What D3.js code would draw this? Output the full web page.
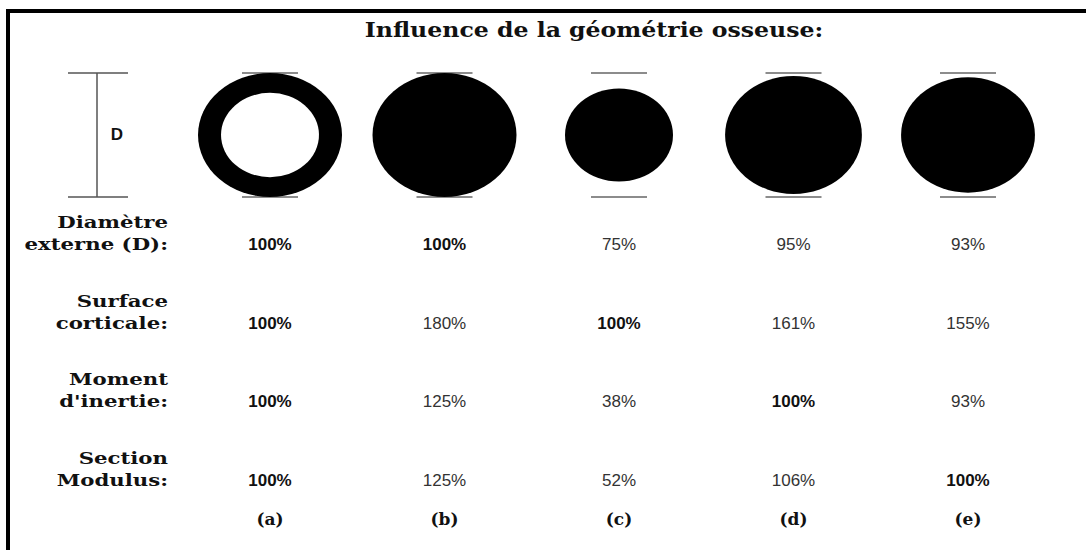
<!DOCTYPE html>
<html lang="fr">
<head>
<meta charset="utf-8">
<title>Influence de la géométrie osseuse</title>
<script src="https://d3js.org/d3.v7.min.js"></script>
<style>
  body { margin: 0; background: #fff; }
  .lbl { font-family: "DejaVu Serif", serif; font-weight: bold; fill: #111; }
  .val { font-family: "Liberation Sans", Arial, sans-serif; font-size: 17px; fill: #333; }
  .val.b { font-weight: bold; fill: #111; }
</style>
</head>
<body>
<div id="chart"></div>
<script>
// data
var shapes = ["(a)", "(b)", "(c)", "(d)", "(e)"]
var diametre = [100, 100, 75, 95, 93]
var surface = [100, 180, 100, 161, 155]
var inertie = [100, 125, 38, 100, 93]
var modulus = [100, 125, 52, 106, 100]
var innerDiam = [68, 0, 0, 0, 0]   // hollow part of (a), % of D
var rowLabels = [["Diamètre", "externe (D):"], ["Surface", "corticale:"],
                 ["Moment", "d'inertie:"], ["Section", "Modulus:"]]
var rows = [diametre, surface, inertie, modulus]
var title = "Influence de la géométrie osseuse:"

var w = 1086, h = 550
var svg = d3.select("#chart").append("svg").attr("width", w).attr("height", h)

// frame (top + left only)
svg.append("path")
  .attr("d", "M8,550 L8,11 L1086,11")
  .attr("fill", "none").attr("stroke", "#000").attr("stroke-width", 4)

svg.append("text").attr("class", "lbl")
  .attr("transform", "translate(594,37) scale(1.18,1)")
  .attr("text-anchor", "middle").attr("font-size", 20)
  .text(title)

var x = d3.scalePoint().domain(shapes).range([270, 968])
var rx = d3.scaleLinear().domain([0, 100]).range([0, 72])
var ry = d3.scaleLinear().domain([0, 100]).range([0, 62])
var cy = 135

// D marker
var g = svg.append("g").attr("stroke", "#555").attr("stroke-width", 1.5)
g.append("line").attr("x1", 97).attr("x2", 97).attr("y1", cy - ry(100)).attr("y2", cy + ry(100))
g.selectAll(".tk").data([-1, 1]).enter().append("line")
  .attr("x1", 68).attr("x2", 128)
  .attr("y1", function(d) { return cy + d * ry(100) })
  .attr("y2", function(d) { return cy + d * ry(100) })
svg.append("text").attr("x", 117).attr("y", 140).attr("text-anchor", "middle")
  .attr("font-family", "Liberation Sans, Arial, sans-serif").attr("font-weight", "bold")
  .attr("font-size", 17).attr("fill", "#111").text("D")

// reference lines above/below each section
shapes.forEach(function(s) {
  [-1, 1].forEach(function(d) {
    svg.append("line")
      .attr("x1", x(s) - 28).attr("x2", x(s) + 28)
      .attr("y1", cy + d * ry(100)).attr("y2", cy + d * ry(100))
      .attr("stroke", "#666").attr("stroke-width", 1.5)
  })
})

// bone sections
svg.selectAll(".outer").data(shapes).enter().append("ellipse")
  .attr("cx", function(d) { return x(d) })
  .attr("cy", cy)
  .attr("rx", function(d, i) { return rx(diametre[i]) })
  .attr("ry", function(d, i) { return ry(diametre[i]) })
  .attr("fill", "#000")
svg.selectAll(".inner").data(shapes.filter(function(d, i) { return innerDiam[i] > 0 }))
  .enter().append("ellipse")
  .attr("cx", function(d) { return x(d) })
  .attr("cy", cy)
  .attr("rx", function(d) { return rx(innerDiam[shapes.indexOf(d)]) })
  .attr("ry", function(d) { return ry(innerDiam[shapes.indexOf(d)]) })
  .attr("fill", "#fff")

// table rows
var y0 = 250, dy = 78.5
rows.forEach(function(vals, r) {
  var yb = y0 + r * dy
  rowLabels[r].forEach(function(t, k) {
    svg.append("text").attr("class", "lbl")
      .attr("transform", "translate(168," + (yb - 22 + k * 22) + ") scale(1.25,1)")
      .attr("text-anchor", "end").attr("font-size", 17)
      .text(t)
  })
  svg.selectAll(".v" + r).data(vals).enter().append("text")
    .attr("class", function(d) { return d === 100 ? "val b" : "val" })
    .attr("x", function(d, i) { return x(shapes[i]) })
    .attr("y", yb)
    .attr("text-anchor", "middle")
    .text(function(d) { return d + "%" })
})

svg.selectAll(".cat").data(shapes).enter().append("text").attr("class", "lbl")
  .attr("transform", function(d) { return "translate(" + x(d) + ",525)" })
  .attr("text-anchor", "middle").attr("font-size", 17)
  .text(function(d) { return d })
</script>
</body>
</html>
